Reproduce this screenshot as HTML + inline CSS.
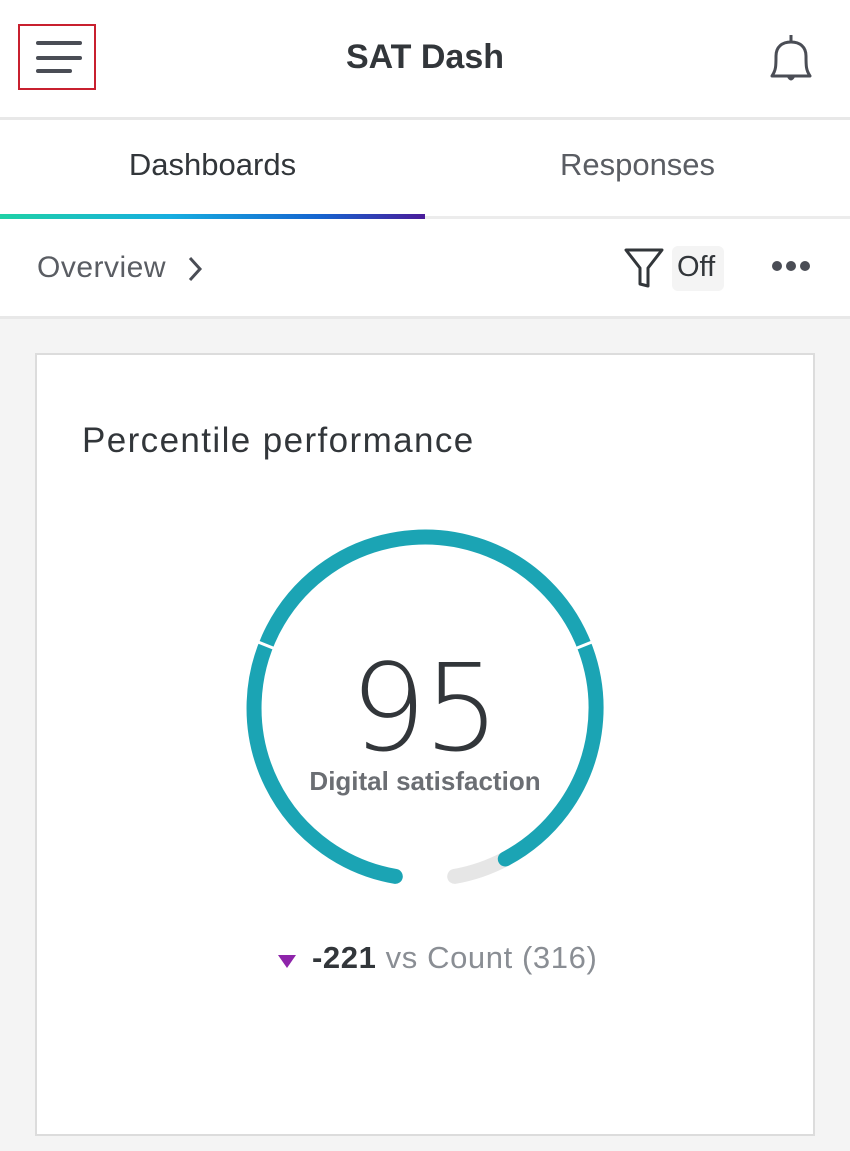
<!DOCTYPE html>
<html><head><meta charset="utf-8"><style>
*{margin:0;padding:0;box-sizing:border-box}
body{width:850px;height:1151px;background:#f4f4f4;font-family:"Liberation Sans","DejaVu Sans",sans-serif;position:relative;overflow:hidden}
.abs{position:absolute}
</style></head><body>
<div class="abs" style="left:0;top:0;width:850px;height:318px;background:#fff"></div>
<div class="abs" style="left:18px;top:24px;width:78px;height:66px;border:2px solid #c8202f"></div>
<div class="abs" style="left:36px;top:41px;width:46px;height:4px;background:#4a4d55;border-radius:2px"></div>
<div class="abs" style="left:36px;top:56px;width:46px;height:4px;background:#4a4d55;border-radius:2px"></div>
<div class="abs" style="left:36px;top:69px;width:36px;height:4px;background:#4a4d55;border-radius:2px"></div>
<div class="abs" style="left:0;top:38px;width:850px;text-align:center;font-size:34px;font-weight:bold;color:#32363a">SAT Dash</div>
<svg class="abs" style="left:765px;top:32px" width="52" height="52" viewBox="0 0 52 52"><path d="M7 44 C11 38 11 34 11 24 C11 15 17 10 26 10 C35 10 41 15 41 24 C41 34 41 38 45 44 Z" fill="none" stroke="#4a4d55" stroke-width="3" stroke-linejoin="round"/><path d="M26 3 V10" stroke="#4a4d55" stroke-width="3"/><path d="M22 45 Q26 52 30 45" fill="#4a4d55"/></svg>
<div class="abs" style="left:0;top:117px;width:850px;height:3px;background:#e8e8e8"></div>
<div class="abs" style="left:0;top:147px;width:425px;text-align:center;font-size:31px;color:#32363a">Dashboards</div>
<div class="abs" style="left:425px;top:147px;width:425px;text-align:center;font-size:31px;color:#5a5d63">Responses</div>
<div class="abs" style="left:0;top:216px;width:850px;height:3px;background:#ececec"></div>
<div class="abs" style="left:0;top:214px;width:425px;height:5px;background:linear-gradient(90deg,#1fd1a6,#17aee0 40%,#1565d0 75%,#4a1b9a)"></div>
<div class="abs" style="left:37px;top:251px;font-size:30px;color:#5a5d63;letter-spacing:0.5px">Overview</div>
<svg class="abs" style="left:185px;top:254px" width="20" height="30"><path d="M5 4 L15 15 L5 26" fill="none" stroke="#4a4d55" stroke-width="3"/></svg>
<svg class="abs" style="left:622px;top:246px" width="44" height="44"><path d="M4 4 H40 L26 22 V40 L18 38 V22 Z" fill="none" stroke="#32363a" stroke-width="3" stroke-linejoin="round"/></svg>
<div class="abs" style="left:672px;top:246px;width:52px;height:45px;background:#f4f4f4;border-radius:6px"></div>
<div class="abs" style="left:677px;top:251px;font-size:29px;color:#32363a">Off</div>
<div class="abs" style="left:772px;top:261px;width:10px;height:10px;border-radius:50%;background:#4a4d55"></div>
<div class="abs" style="left:786px;top:261px;width:10px;height:10px;border-radius:50%;background:#4a4d55"></div>
<div class="abs" style="left:800px;top:261px;width:10px;height:10px;border-radius:50%;background:#4a4d55"></div>
<div class="abs" style="left:0;top:316px;width:850px;height:3px;background:#e8e8e8"></div>
<div class="abs" style="left:35px;top:353px;width:780px;height:783px;background:#fff;border:2px solid #dcdcdc"></div>
<div class="abs" style="left:82px;top:421px;font-size:35px;color:#32363a;letter-spacing:1.4px">Percentile performance</div>
<svg class="abs" style="left:0;top:0" width="850" height="1151">
<path d="M454.7 876.4 A171 171 0 0 0 505.3 859.0" fill="none" stroke="#e6e6e6" stroke-width="15" stroke-linecap="round"/>
<path d="M395.3 876.4 A171 171 0 1 1 505.3 859.0" fill="none" stroke="#1ba4b4" stroke-width="15" stroke-linecap="round"/>
<path d="M278 650 L253 640 M572 650 L597 640" stroke="#fff" stroke-width="3"/>
</svg>
<div class="abs" style="left:0;top:645px;width:850px;text-align:center;font-family:'DejaVu Sans',sans-serif;font-size:120px;font-weight:200;color:#32363a;line-height:130px;letter-spacing:-3px;text-indent:-3px">95</div>
<div class="abs" style="left:0;top:766px;width:850px;text-align:center;font-size:26px;font-weight:bold;color:#6b6e73">Digital satisfaction</div>
<svg class="abs" style="left:277px;top:953px" width="20" height="16"><path d="M1 2 H19 L10 15 Z" fill="#8e24aa"/></svg>
<div class="abs" style="left:312px;top:940px;font-size:31px;color:#8a8e94;white-space:nowrap;letter-spacing:0.6px"><b style="color:#32363a">-221</b> vs Count (316)</div>
</body></html>
